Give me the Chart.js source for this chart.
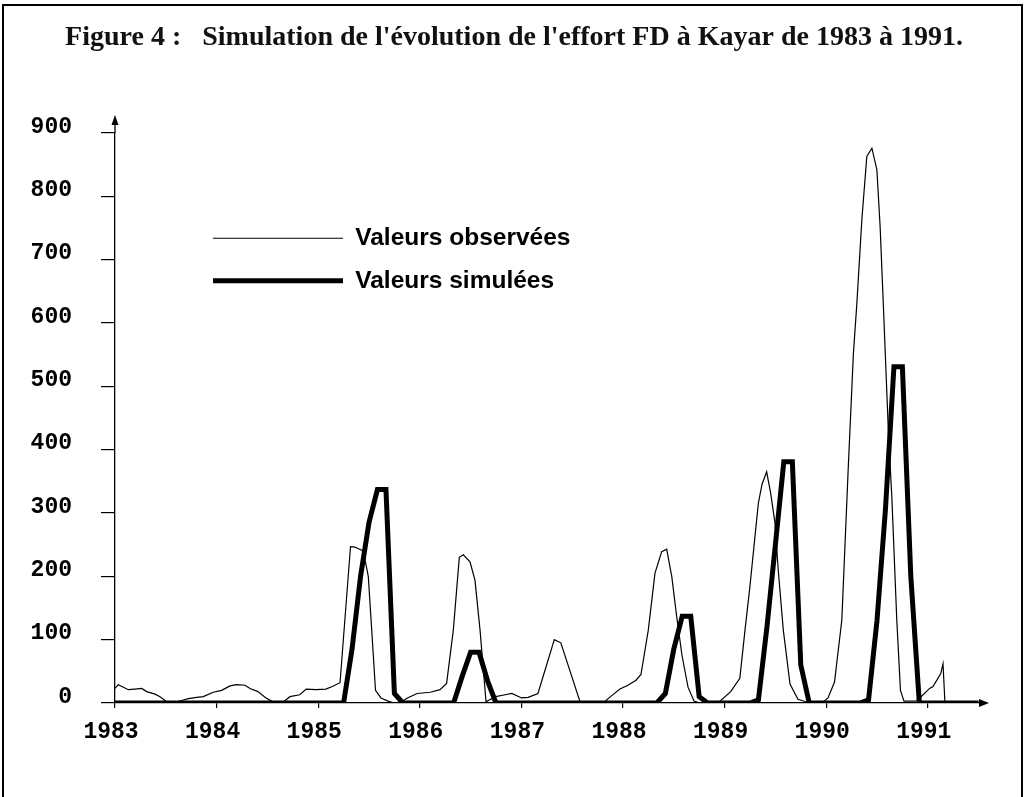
<!DOCTYPE html>
<html>
<head>
<meta charset="utf-8">
<script src="https://cdn.jsdelivr.net/npm/chart.js@4.4.1/dist/chart.umd.min.js"></script>
<style>
html,body{margin:0;padding:0;background:#fff;}
#wrap{width:1028px;height:797px;}
</style>
</head>
<body>
<div id="wrap"><canvas id="c" width="1028" height="797"></canvas></div>
<script>
// ---- data ----
const titleText = "Figure 4 :   Simulation de l'évolution de l'effort FD à Kayar de 1983 à 1991.";
const seriesNames = ["Valeurs observées", "Valeurs simulées"];
const yearTicks = [1983, 1984, 1985, 1986, 1987, 1988, 1989, 1990, 1991];
const valueTicks = [0, 100, 200, 300, 400, 500, 600, 700, 800, 900];

const obsYears = [
  1983.000, 1983.032, 1983.131, 1983.197, 1983.263, 1983.312, 1983.394, 1983.443, 1983.509, 1983.607,
  1983.656, 1983.721, 1983.804, 1983.869, 1983.967, 1984.050, 1984.132, 1984.198, 1984.280, 1984.329,
  1984.407, 1984.486, 1984.565, 1984.644, 1984.722, 1984.818, 1984.882, 1984.978, 1985.075, 1985.139,
  1985.215, 1985.318, 1985.362, 1985.392, 1985.444, 1985.493, 1985.527, 1985.564, 1985.618, 1985.687,
  1985.746, 1985.805, 1985.878, 1985.974, 1986.103, 1986.199, 1986.264, 1986.330, 1986.389, 1986.428,
  1986.494, 1986.543, 1986.593, 1986.652, 1986.745, 1986.841, 1986.906, 1987.002, 1987.067, 1987.163,
  1987.324, 1987.388, 1987.581, 1987.803, 1987.892, 1987.970, 1988.049, 1988.128, 1988.177, 1988.249,
  1988.315, 1988.381, 1988.430, 1988.480, 1988.529, 1988.581, 1988.640, 1988.699, 1988.758, 1988.935,
  1989.060, 1989.150, 1989.201, 1989.250, 1989.332, 1989.368, 1989.414, 1989.454, 1989.496, 1989.528,
  1989.578, 1989.644, 1989.722, 1989.801, 1989.860, 1989.959, 1990.018, 1990.082, 1990.154, 1990.219,
  1990.268, 1990.302, 1990.351, 1990.400, 1990.450, 1990.499, 1990.531, 1990.562, 1990.613, 1990.646,
  1990.695, 1990.731, 1990.766, 1990.884, 1990.921, 1991.018, 1991.051, 1991.127, 1991.150, 1991.169
];
const obsValues = [
  23, 29, 21, 22, 23, 18, 14, 10, 2, 2,
  4, 7, 9, 10, 17, 20, 27, 29, 28, 23,
  18, 8, 1, 0, 10, 13, 22, 21, 22, 26,
  32, 247, 246, 244, 240, 200, 115, 20, 8, 3,
  0, 0, 8, 15, 17, 21, 31, 115, 230, 234,
  223, 194, 115, 2, 10, 13, 15, 8, 9, 15,
  100, 95, 0, 0, 12, 22, 28, 36, 45, 115,
  205, 239, 243, 200, 136, 75, 25, 3, 0, 0,
  18, 39, 115, 185, 315, 345, 365, 331, 284, 210,
  115, 30, 6, 2, 0, 0, 8, 33, 131, 378,
  552, 631, 763, 863, 876, 842, 752, 631, 426, 326,
  131, 20, 3, 3, 8, 23, 26, 46, 62, 0
];

const simYears = [
  1983.000, 1985.250, 1985.333, 1985.417, 1985.500, 1985.583, 1985.667, 1985.750, 1985.833,
  1986.333, 1986.417, 1986.500, 1986.583, 1986.667, 1986.750,
  1988.333, 1988.417, 1988.500, 1988.583, 1988.667, 1988.750, 1988.833,
  1989.250, 1989.333, 1989.417, 1989.500, 1989.583, 1989.667, 1989.750, 1989.833,
  1990.333, 1990.417, 1990.500, 1990.583, 1990.667, 1990.750, 1990.833, 1990.917,
  1991.500
];
const simValues = [
  0, 0, 85, 200, 285, 337, 337, 15, 0,
  0, 42, 80, 80, 35, 0,
  0, 15, 85, 137, 137, 10, 0,
  0, 5, 120, 250, 381, 381, 60, 0,
  0, 5, 130, 305, 531, 531, 200, 0,
  0
];

// ---- chart ----
const toPoints = (xs, ys) => xs.map((x, i) => ({x: x, y: ys[i]}));

const decoPlugin = {
  id: 'deco',
  beforeDraw(chart) {
    const ctx = chart.ctx;
    ctx.save();
    ctx.fillStyle = '#ffffff';
    ctx.fillRect(0, 0, chart.width, chart.height);
    ctx.strokeStyle = '#000';
    ctx.lineWidth = 2;
    ctx.strokeRect(3, 5, 1019, 820);
    ctx.restore();
  },
  afterLayout(chart) {
    const lg = chart.legend;
    if (lg) { lg.left = 195; lg.top = 208; }
  },
  afterDraw(chart) {
    const ctx = chart.ctx;
    const a = chart.chartArea;
    ctx.save();
    ctx.strokeStyle = '#000';
    ctx.fillStyle = '#000';
    ctx.lineWidth = 1.3;
    ctx.beginPath();
    ctx.moveTo(a.left, a.top);
    ctx.lineTo(a.left, a.top - 10);
    ctx.stroke();
    ctx.beginPath();
    ctx.moveTo(a.left, a.top - 18);
    ctx.lineTo(a.left - 3.5, a.top - 8);
    ctx.lineTo(a.left + 3.5, a.top - 8);
    ctx.closePath();
    ctx.fill();
    ctx.beginPath();
    ctx.moveTo(a.right + 9, a.bottom);
    ctx.lineTo(a.right - 1, a.bottom - 4);
    ctx.lineTo(a.right - 1, a.bottom + 4);
    ctx.closePath();
    ctx.fill();
    ctx.restore();
  }
};

const tickFont = {family: "'Liberation Mono', 'Courier New', monospace", size: 23, weight: 'bold'};

new Chart(document.getElementById('c'), {
  type: 'line',
  data: {
    datasets: [
      {
        label: seriesNames[0],
        data: toPoints(obsYears, obsValues),
        borderColor: '#000',
        backgroundColor: '#000',
        borderWidth: 1.2,
        pointRadius: 0,
        tension: 0
      },
      {
        label: seriesNames[1],
        data: toPoints(simYears, simValues),
        borderColor: '#000',
        backgroundColor: '#000',
        borderWidth: 5,
        pointRadius: 0,
        tension: 0,
        borderJoinStyle: 'miter'
      }
    ]
  },
  options: {
    responsive: false,
    animation: false,
    devicePixelRatio: 1,
    layout: {padding: {left: 0, right: 0, top: 0, bottom: 0}},
    plugins: {
      title: {
        display: true,
        text: titleText,
        color: '#111',
        font: {family: "'Liberation Serif', 'DejaVu Serif', serif", size: 28, weight: 'bold'},
        padding: {top: 21.2, bottom: 78.2}
      },
      legend: {
        display: true,
        position: 'chartArea',
        align: 'start',
        labels: {
          usePointStyle: true,
          pointStyle: 'line',
          pointStyleWidth: 130,
          padding: 18,
          color: '#000',
          font: {family: "'Liberation Sans', Arial, sans-serif", size: 24.5, weight: 'bold'}
        }
      },
      tooltip: {enabled: false}
    },
    scales: {
      x: {
        type: 'linear',
        min: 1983,
        max: 1991.514,
        afterBuildTicks: (s) => { s.ticks = yearTicks.map(v => ({value: v})); },
        afterFit: (s) => { s.height = 94; },
        grid: {display: true, drawOnChartArea: false, drawTicks: true, tickLength: 5, color: '#000', lineWidth: 1.2},
        border: {display: true, color: '#000', width: 1.3},
        ticks: {
          autoSkip: false, maxRotation: 0, minRotation: 0,
          padding: 10, labelOffset: -4,
          color: '#000', font: tickFont,
          callback: (v) => String(v)
        }
      },
      y: {
        type: 'linear',
        min: 0,
        max: 900,
        afterBuildTicks: (s) => { s.ticks = valueTicks.map(v => ({value: v})); },
        afterFit: (s) => { s.width = 115; },
        grid: {display: true, drawOnChartArea: false, drawTicks: true, tickLength: 14, color: '#000', lineWidth: 1.2},
        border: {display: true, color: '#000', width: 1.3},
        ticks: {
          padding: 29, labelOffset: -6,
          color: '#000', font: tickFont,
          callback: (v) => String(v)
        }
      },
      yRight: {
        type: 'linear',
        position: 'right',
        min: 0,
        max: 900,
        display: true,
        afterFit: (s) => { s.width = 48; },
        grid: {display: false},
        border: {display: false},
        ticks: {display: false}
      }
    }
  },
  plugins: [decoPlugin]
});
</script>
</body>
</html>
